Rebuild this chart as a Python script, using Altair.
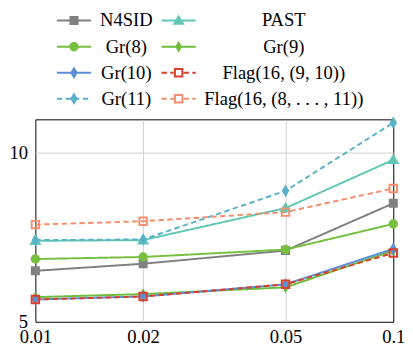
import altair as alt
import pandas as pd

noise = [0.01, 0.02, 0.05, 0.1]
methods = ["N4SID", "PAST", "Gr(8)", "Gr(9)", "Gr(10)",
           "Flag(16, (9, 10))", "Gr(11)", "Flag(16, (8, . . . , 11))"]
n4sid = [6.51, 6.72, 7.11, 8.51]
past = [7.40, 7.42, 8.37, 9.80]
gr8 = [6.86, 6.92, 7.14, 7.90]
gr9 = [5.73, 5.82, 6.02, 7.11]
gr10 = [5.66, 5.75, 6.11, 7.16]
flag_9_10 = [5.66, 5.75, 6.11, 7.04]
gr11 = [7.42, 7.44, 8.88, 10.90]
flag_8_11 = [7.88, 7.98, 8.25, 8.95]
x_ticks = [0.01, 0.02, 0.05, 0.1]
y_ticks = [5, 10]

series = [n4sid, past, gr8, gr9, gr10, flag_9_10, gr11, flag_8_11]
rows = []
for m, vals in zip(methods, series):
    for x, y in zip(noise, vals):
        rows.append({"method": m, "noise": x, "err": y})
df = pd.DataFrame(rows)

# styles
colors = ["#808080", "#62c6b5", "#77bf3f", "#6cbd39", "#5b8ed6",
          "#d9402b", "#5ab2c8", "#f38f6e"]
fills = ["#808080", "#62c6b5", "#77bf3f", "#6cbd39", "#5b8ed6",
         "transparent", "#5ab2c8", "transparent"]
dashes = [[1, 0], [1, 0], [1, 0], [1, 0], [1, 0], [5.5, 3.5], [5.5, 3.5], [5.5, 3.5]]

SQ = "M-0.8,-0.8H0.8V0.8H-0.8Z"
TRI = "M0,-0.95L1.0,0.75H-1.0Z"
CIR = "M-0.85,0A0.85,0.85,0,1,1,0.85,0A0.85,0.85,0,1,1,-0.85,0Z"
DIA_S = "M0,-0.9L0.5,0L0,0.9L-0.5,0Z"
DIA = "M0,-1.0L0.6,0L0,1.0L-0.6,0Z"
OSQ = "M-0.85,-0.85H0.85V0.85H-0.85Z"
mark_paths = [SQ, TRI, CIR, DIA_S, DIA, OSQ, DIA, OSQ]

# legend layout (two columns, four rows, drawn above the plot area)
leg_col = [0, 1, 0, 1, 0, 1, 0, 1]
leg_row = [0, 0, 1, 1, 2, 2, 3, 3]
col_line_start = [22, 129]
col_marker = [39.5, 146.5]
col_line_end = [57, 164]
col_label = [93, 254]
row_y = [-101, -74.3, -47.6, -21]
marker_gap = [0, 0, 0, 0, 0, 5, 0, 5]

leg_rows = []
seg_rows = []
for i, m in enumerate(methods):
    c, r = leg_col[i], leg_row[i]
    leg_rows.append({"method": m, "mx": col_marker[c], "tx": col_label[c], "ly": row_y[r]})
    seg_rows.append({"method": m, "sx": col_line_start[c], "sx2": col_marker[c] - marker_gap[i], "ly": row_y[r]})
    seg_rows.append({"method": m, "sx": col_marker[c] + marker_gap[i], "sx2": col_line_end[c], "ly": row_y[r]})
leg_df = pd.DataFrame(leg_rows)
seg_df = pd.DataFrame(seg_rows)

font = "Liberation Serif, DejaVu Serif, serif"
edge = "datum.value == 5 || datum.value == 0.1 || datum.value == 0.01"

color_scale = alt.Scale(domain=methods, range=colors)
dash_scale = alt.Scale(domain=methods, range=dashes)
shape_scale = alt.Scale(domain=methods, range=mark_paths)
fill_scale = alt.Scale(domain=methods, range=fills)

xs = alt.X("noise:Q", scale=alt.Scale(type="log", domain=[0.01, 0.1], nice=False),
           axis=alt.Axis(values=x_ticks, format="~g", title=None, labelFlush=False,
                         labelPadding=6,
                         gridOpacity=alt.condition(edge, alt.value(0), alt.value(1))))
ys = alt.Y("err:Q", scale=alt.Scale(domain=[5, 11], nice=False, zero=False),
           axis=alt.Axis(values=y_ticks, title=None, labelPadding=8,
                         gridOpacity=alt.condition(edge, alt.value(0), alt.value(1))))

lines = alt.Chart(df).mark_line(strokeWidth=2).encode(
    x=xs, y=ys,
    color=alt.Color("method:N", scale=color_scale, legend=None),
    strokeDash=alt.StrokeDash("method:N", scale=dash_scale, legend=None),
)

pts = alt.Chart(df).mark_point(size=81, strokeWidth=2, opacity=1, filled=True).encode(
    x=xs, y=ys,
    shape=alt.Shape("method:N", scale=shape_scale, legend=None),
    stroke=alt.Stroke("method:N", scale=color_scale, legend=None),
    fill=alt.Fill("method:N", scale=fill_scale, legend=None),
)

data_layer = alt.layer(lines, pts)

lx_scale = alt.Scale(domain=[0, 366], range=[0, 366], nice=False, zero=False)
ly_scale = alt.Scale(domain=[0, 207], range=[0, 207], nice=False, zero=False)

leg_segs = alt.Chart(seg_df).mark_rule(strokeWidth=2).encode(
    x=alt.X("sx:Q", scale=lx_scale, axis=None),
    x2="sx2:Q",
    y=alt.Y("ly:Q", scale=ly_scale, axis=None),
    color=alt.Color("method:N", scale=color_scale, legend=None),
    strokeDash=alt.StrokeDash("method:N", scale=dash_scale, legend=None),
)
leg_pts = alt.Chart(leg_df).mark_point(size=81, strokeWidth=2, opacity=1, filled=True).encode(
    x=alt.X("mx:Q", scale=lx_scale, axis=None),
    y=alt.Y("ly:Q", scale=ly_scale, axis=None),
    shape=alt.Shape("method:N", scale=shape_scale, legend=None),
    stroke=alt.Stroke("method:N", scale=color_scale, legend=None),
    fill=alt.Fill("method:N", scale=fill_scale, legend=None),
)
leg_text = alt.Chart(leg_df).mark_text(
    font=font, fontSize=19, align="center", baseline="middle", color="black"
).encode(
    x=alt.X("tx:Q", scale=lx_scale, axis=None),
    y=alt.Y("ly:Q", scale=ly_scale, axis=None),
    text="method:N",
)
legend_layer = alt.layer(leg_segs, leg_pts, leg_text)

chart = alt.layer(data_layer, legend_layer).resolve_scale(
    x="independent", y="independent"
).properties(
    width=366, height=207,
    padding={"left": 1, "top": 0, "right": 0, "bottom": 0},
).configure_view(
    stroke="black", strokeWidth=1
).configure_axis(
    labelFont=font, labelFontSize=19, labelColor="black",
    ticks=False, tickSize=0, domain=False,
    grid=True, gridColor="#cfcfcf", gridWidth=1,
)

chart.save("out.html", embed_options={"renderer": "svg", "actions": False})
